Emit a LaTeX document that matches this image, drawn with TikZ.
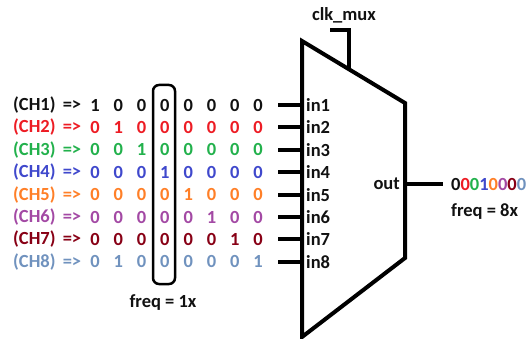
\documentclass[tikz,border=0pt]{standalone}
\usepackage{fontspec}
\setmainfont{Carlito}
\definecolor{c1}{HTML}{111111}
\definecolor{c2}{HTML}{ED1C24}
\definecolor{c3}{HTML}{22B14C}
\definecolor{c4}{HTML}{3F48CC}
\definecolor{c5}{HTML}{FF7F27}
\definecolor{c6}{HTML}{A349A4}
\definecolor{c7}{HTML}{880015}
\definecolor{c8}{HTML}{7092BE}
\begin{document}
\begin{tikzpicture}[x=1pt,y=-1pt,
  font=\fontsize{18.5}{20}\selectfont\bfseries,
  wire/.style={line width=4pt},
  lbl/.style={inner sep=0pt},
  digit/.style={inner sep=0pt, anchor=center},
  selbox/.style={line width=2.5pt, rounded corners=6pt}]
\useasboundingbox (0,0) rectangle (527,339);
% mux body
\coordinate (tl) at (302,41);
\coordinate (tr) at (405,103);
\coordinate (br) at (405,258);
\coordinate (bl) at (302,337);
\draw[wire, line join=miter] (tl) -- (tr) -- (br) -- (bl) -- cycle;
% clock select
\coordinate (clkin) at (349,69);
\coordinate (clkc) at (349,30);
\coordinate (clkend) at (330,30);
\draw[wire] (clkin) -- (clkc) -- (clkend);
\node[lbl, c1] (clk) at (344,15) {clk\_mux};
% rows
\foreach \k/\col/\bits in {1/c1/{1,0,0,0,0,0,0,0},2/c2/{0,1,0,0,0,0,0,0},3/c3/{0,0,1,0,0,0,0,0},4/c4/{0,0,0,1,0,0,0,0},5/c5/{0,0,0,0,1,0,0,0},6/c6/{0,0,0,0,0,1,0,0},7/c7/{0,0,0,0,0,0,1,0},8/c8/{0,1,0,0,0,0,0,1}}{
  \pgfmathsetmacro{\yy}{105+22.4*(\k-1)}
  \node[lbl, anchor=west, text=\col] (ch\k) at (13,\yy) {(CH\k)\hspace{3pt} =>};
  \foreach \b [count=\j] in \bits {
    \node[digit, text=\col] (d\k\j) at ({95+23.3*(\j-1)},\yy) {\b};
  }
  \coordinate (p\k) at (278,\yy);
  \coordinate (m\k) at (302,\yy);
  \draw[wire] (p\k) -- (m\k);
  \node[lbl, anchor=west, c1] (in\k) at (306,\yy) {in\k};
}
% selection box
\draw[selbox] (153,85) rectangle (175,284);
\node[lbl, c1] (f1) at (163,303) {freq = 1x};
% output
\node[lbl, anchor=east, c1] (out) at (400,184) {out};
\coordinate (oa) at (405,184);
\coordinate (ob) at (443,184);
\draw[wire] (oa) -- (ob);
\node[lbl, anchor=west] (bits) at (451,184) {\textcolor{c1}{0}\textcolor{c2}{0}\textcolor{c3}{0}\textcolor{c4}{1}\textcolor{c5}{0}\textcolor{c6}{0}\textcolor{c7}{0}\textcolor{c8}{0}};
\node[lbl, anchor=west, c1] (f8) at (451,212) {freq = 8x};
\end{tikzpicture}
\end{document}
